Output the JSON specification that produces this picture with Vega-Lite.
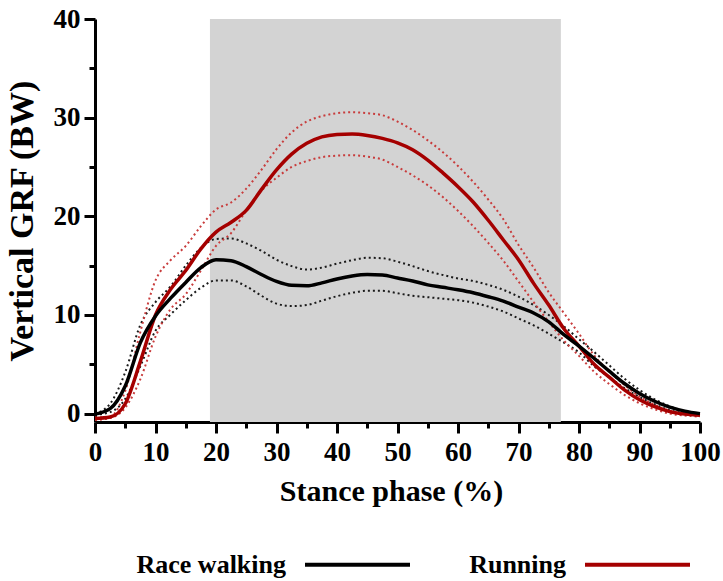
{
  "$schema": "https://vega.github.io/schema/vega-lite/v6.json",
  "autosize": {"type": "none"},
  "width": 605,
  "height": 403,
  "padding": {"left": 95, "top": 19, "right": 23, "bottom": 159},
  "background": "white",
  "config": {"view": {"stroke": null}},
  "data": {"values": [
    {"p": 0, "Race walking": -0.05, "Running": -0.5, "rw_hi": 0.0, "rw_lo": -0.1, "rn_hi": -0.4, "rn_lo": -0.65},
    {"p": 2.5, "Race walking": 0.5, "Running": -0.35, "rw_hi": 1.0, "rw_lo": 0.15, "rn_hi": -0.3, "rn_lo": -0.45},
    {"p": 5, "Race walking": 2.8, "Running": 1.0, "rw_hi": 4.2, "rw_lo": 1.5, "rn_hi": 2.3, "rn_lo": 0.6},
    {"p": 7.5, "Race walking": 7.2, "Running": 5.3, "rw_hi": 9.0, "rw_lo": 4.8, "rn_hi": 8.3, "rn_lo": 3.5},
    {"p": 10, "Race walking": 9.9, "Running": 10.0, "rw_hi": 11.3, "rw_lo": 8.4, "rn_hi": 13.5, "rn_lo": 7.8},
    {"p": 12.5, "Race walking": 11.7, "Running": 12.6, "rw_hi": 12.9, "rw_lo": 10.05, "rn_hi": 15.55, "rn_lo": 10.6},
    {"p": 15, "Race walking": 13.3, "Running": 14.5, "rw_hi": 15.0, "rw_lo": 11.5, "rn_hi": 17.0, "rn_lo": 12.1},
    {"p": 17.5, "Race walking": 14.8, "Running": 16.7, "rw_hi": 16.8, "rw_lo": 12.75, "rn_hi": 19.0, "rn_lo": 14.5},
    {"p": 20, "Race walking": 15.6, "Running": 18.4, "rw_hi": 17.7, "rw_lo": 13.5, "rn_hi": 20.7, "rn_lo": 17.0},
    {"p": 22.5, "Race walking": 15.5, "Running": 19.4, "rw_hi": 17.75, "rw_lo": 13.5, "rn_hi": 21.4, "rn_lo": 18.3},
    {"p": 25, "Race walking": 14.9, "Running": 20.6, "rw_hi": 17.25, "rw_lo": 12.9, "rn_hi": 22.8, "rn_lo": 20.6},
    {"p": 27.5, "Race walking": 14.1, "Running": 22.7, "rw_hi": 16.5, "rw_lo": 11.95, "rn_hi": 24.7, "rn_lo": 22.6},
    {"p": 30, "Race walking": 13.4, "Running": 24.7, "rw_hi": 15.6, "rw_lo": 11.15, "rn_hi": 26.8, "rn_lo": 23.9},
    {"p": 32.5, "Race walking": 13.0, "Running": 26.3, "rw_hi": 14.95, "rw_lo": 10.9, "rn_hi": 28.5, "rn_lo": 25.0},
    {"p": 35, "Race walking": 12.95, "Running": 27.4, "rw_hi": 14.6, "rw_lo": 11.0, "rn_hi": 29.6, "rn_lo": 25.6},
    {"p": 37.5, "Race walking": 13.25, "Running": 28.05, "rw_hi": 14.8, "rw_lo": 11.45, "rn_hi": 30.15, "rn_lo": 26.0},
    {"p": 40, "Race walking": 13.65, "Running": 28.3, "rw_hi": 15.2, "rw_lo": 11.9, "rn_hi": 30.45, "rn_lo": 26.15},
    {"p": 42.5, "Race walking": 13.95, "Running": 28.35, "rw_hi": 15.55, "rw_lo": 12.25, "rn_hi": 30.55, "rn_lo": 26.2},
    {"p": 45, "Race walking": 14.1, "Running": 28.2, "rw_hi": 15.8, "rw_lo": 12.45, "rn_hi": 30.45, "rn_lo": 26.05},
    {"p": 47.5, "Race walking": 14.05, "Running": 27.9, "rw_hi": 15.75, "rw_lo": 12.45, "rn_hi": 30.25, "rn_lo": 25.75},
    {"p": 50, "Race walking": 13.75, "Running": 27.45, "rw_hi": 15.4, "rw_lo": 12.2, "rn_hi": 29.6, "rn_lo": 25.0},
    {"p": 52.5, "Race walking": 13.45, "Running": 26.75, "rw_hi": 14.95, "rw_lo": 11.95, "rn_hi": 28.75, "rn_lo": 24.15},
    {"p": 55, "Race walking": 13.05, "Running": 25.7, "rw_hi": 14.45, "rw_lo": 11.8, "rn_hi": 27.7, "rn_lo": 23.15},
    {"p": 57.5, "Race walking": 12.8, "Running": 24.4, "rw_hi": 14.05, "rw_lo": 11.65, "rn_hi": 26.5, "rn_lo": 21.95},
    {"p": 60, "Race walking": 12.55, "Running": 23.0, "rw_hi": 13.7, "rw_lo": 11.5, "rn_hi": 25.1, "rn_lo": 20.55},
    {"p": 62.5, "Race walking": 12.25, "Running": 21.45, "rw_hi": 13.45, "rw_lo": 11.25, "rn_hi": 23.5, "rn_lo": 19.0},
    {"p": 65, "Race walking": 11.85, "Running": 19.6, "rw_hi": 13.05, "rw_lo": 10.85, "rn_hi": 21.7, "rn_lo": 17.3},
    {"p": 67.5, "Race walking": 11.4, "Running": 17.6, "rw_hi": 12.55, "rw_lo": 10.35, "rn_hi": 19.7, "rn_lo": 15.5},
    {"p": 70, "Race walking": 10.8, "Running": 15.6, "rw_hi": 11.85, "rw_lo": 9.65, "rn_hi": 17.1, "rn_lo": 13.4},
    {"p": 72.5, "Race walking": 10.2, "Running": 13.2, "rw_hi": 11.0, "rw_lo": 8.95, "rn_hi": 14.8, "rn_lo": 11.3},
    {"p": 75, "Race walking": 9.3, "Running": 11.0, "rw_hi": 10.0, "rw_lo": 8.1, "rn_hi": 12.3, "rn_lo": 9.3},
    {"p": 77.5, "Race walking": 8.0, "Running": 8.6, "rw_hi": 8.85, "rw_lo": 7.2, "rn_hi": 10.2, "rn_lo": 7.4},
    {"p": 80, "Race walking": 6.85, "Running": 6.85, "rw_hi": 7.55, "rw_lo": 6.2, "rn_hi": 8.1, "rn_lo": 5.85},
    {"p": 82.5, "Race walking": 5.6, "Running": 5.0, "rw_hi": 6.25, "rw_lo": 4.8, "rn_hi": 5.9, "rn_lo": 4.25},
    {"p": 85, "Race walking": 4.3, "Running": 3.7, "rw_hi": 4.9, "rw_lo": 3.7, "rn_hi": 4.3, "rn_lo": 3.0},
    {"p": 87.5, "Race walking": 3.05, "Running": 2.4, "rw_hi": 3.55, "rw_lo": 2.6, "rn_hi": 2.9, "rn_lo": 1.9},
    {"p": 90, "Race walking": 2.05, "Running": 1.4, "rw_hi": 2.4, "rw_lo": 1.7, "rn_hi": 1.75, "rn_lo": 1.05},
    {"p": 92.5, "Race walking": 1.25, "Running": 0.7, "rw_hi": 1.45, "rw_lo": 0.95, "rn_hi": 0.9, "rn_lo": 0.45},
    {"p": 95, "Race walking": 0.65, "Running": 0.2, "rw_hi": 0.75, "rw_lo": 0.35, "rn_hi": 0.3, "rn_lo": 0.0},
    {"p": 97.5, "Race walking": 0.25, "Running": -0.05, "rw_hi": 0.25, "rw_lo": 0.05, "rn_hi": 0.0, "rn_lo": -0.2},
    {"p": 100, "Race walking": 0.0, "Running": -0.17, "rw_hi": 0.0, "rw_lo": -0.05, "rn_hi": -0.1, "rn_lo": -0.3}
  ]},
  "encoding": {
    "x": {
      "field": "p", "type": "quantitative",
      "scale": {"domain": [0, 100], "nice": false},
      "axis": {
        "title": "Stance phase (%)",
        "values": [0,5,10,15,20,25,30,35,40,45,50,55,60,65,70,75,80,85,90,95,100],
        "labelExpr": "datum.value % 10 === 0 ? datum.label : ''",
        "labelFlush": false, "labelOverlap": false, "labelBound": false,
        "tickSize": {"condition": {"test": "datum.value % 10 === 0", "value": 11}, "value": 6},
        "tickWidth": 3, "tickColor": "black", "domainWidth": 3, "domainColor": "black",
        "labelFont": "Liberation Serif", "labelFontWeight": "bold", "labelFontSize": 27, "labelColor": "black", "labelPadding": 6,
        "titleFont": "Liberation Serif", "titleFontWeight": "bold", "titleFontSize": 30, "titleColor": "black", "titlePadding": 11,
        "titleX": 296,
        "grid": false
      }
    }
  },
  "layer": [
    {
      "data": {"values": [{"start": 19, "end": 77}]},
      "mark": {"type": "rect", "color": "#d3d3d3"},
      "encoding": {
        "x": {"field": "start", "type": "quantitative"},
        "x2": {"field": "end"}
      }
    },
    {
      "data": {"values": [{"zero": 0}]},
      "mark": {"type": "rule", "color": "#a0a0a0", "strokeDash": [1, 2], "strokeWidth": 1},
      "encoding": {"y": {"field": "zero", "type": "quantitative"}}
    },
    {
      "transform": [{"fold": ["rw_hi", "rw_lo"], "as": ["bound", "v"]}],
      "mark": {"type": "line", "interpolate": "monotone", "color": "#1a1a1a", "strokeWidth": 2, "strokeDash": [2, 3]},
      "encoding": {
        "y": {"field": "v", "type": "quantitative"},
        "detail": {"field": "bound"}
      }
    },
    {
      "transform": [{"fold": ["rn_hi", "rn_lo"], "as": ["bound", "v"]}],
      "mark": {"type": "line", "interpolate": "monotone", "color": "#c83c3c", "strokeWidth": 2, "strokeDash": [2, 3]},
      "encoding": {
        "y": {"field": "v", "type": "quantitative"},
        "detail": {"field": "bound"}
      }
    },
    {
      "transform": [{"fold": ["Running", "Race walking"], "as": ["Group", "v"]}],
      "mark": {"type": "line", "interpolate": "monotone", "strokeWidth": 3.5},
      "encoding": {
        "y": {
          "field": "v", "type": "quantitative",
          "scale": {"domain": [-0.85, 40], "nice": false, "zero": false},
          "axis": {
            "title": "Vertical GRF (BW)",
            "values": [0,5,10,15,20,25,30,35,40],
            "labelExpr": "datum.value % 10 === 0 ? datum.label : ''",
            "labelFlush": false, "labelOverlap": false, "labelBound": false,
            "tickSize": {"condition": {"test": "datum.value % 10 === 0", "value": 11}, "value": 6},
            "tickWidth": 3, "tickColor": "black", "domainWidth": 3, "domainColor": "black",
            "labelFont": "Liberation Serif", "labelFontWeight": "bold", "labelFontSize": 27, "labelColor": "black", "labelPadding": 4,
            "titleFont": "Liberation Serif", "titleFontWeight": "bold", "titleFontSize": 34, "titleColor": "black", "titlePadding": 14,
            "grid": false
          }
        },
        "color": {
          "field": "Group", "type": "nominal",
          "scale": {"domain": ["Race walking", "Running"], "range": ["#000000", "#a50000"]},
          "legend": {
            "orient": "none", "legendX": 208, "legendY": 491,
            "direction": "horizontal", "title": null,
            "symbolType": "stroke", "symbolSize": 11025, "symbolStrokeWidth": 4,
            "labelFont": "Liberation Serif", "labelFontWeight": "bold", "labelFontSize": 26, "labelColor": "black",
            "labelAlign": "right", "labelOffset": -126, "labelLimit": 400, "columnPadding": 51
          }
        }
      }
    }
  ]
}
